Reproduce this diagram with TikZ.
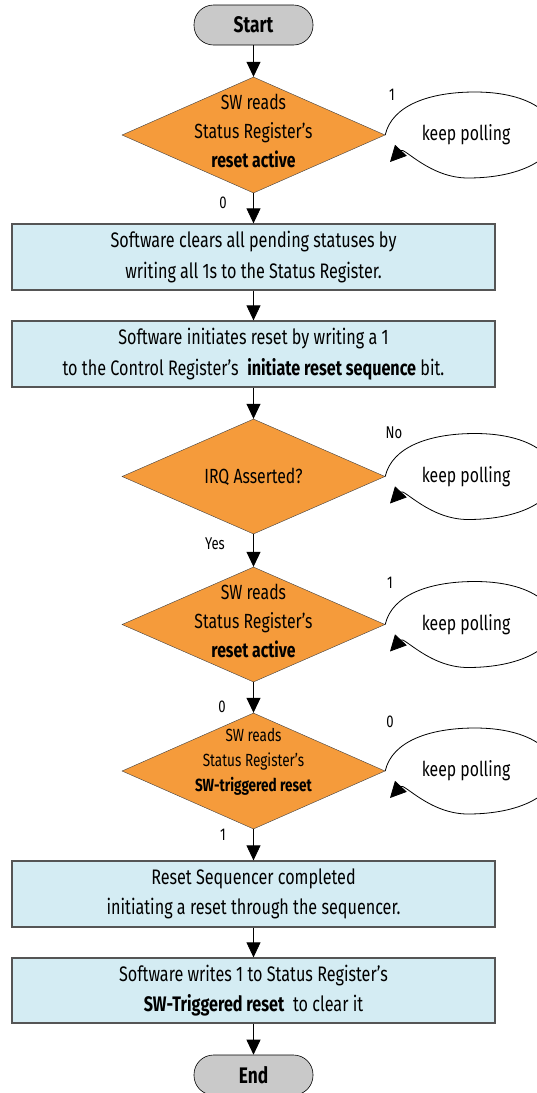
\documentclass[tikz,border=0pt]{standalone}
\usepackage{fontspec}
\setmainfont{Fira Sans}[FakeStretch=0.77]
\usetikzlibrary{shapes.geometric,arrows.meta}
\definecolor{dorange}{HTML}{F59B3B}
\definecolor{boxblue}{HTML}{D4ECF3}
\definecolor{termgray}{HTML}{C9C9C9}
\definecolor{boxedge}{HTML}{555555}
\newcommand{\pollloop}[3]{%
  \node[polltext] (kp#3) at (466,#2) {keep polling};
  \coordinate (ret#3) at (390,#2+27);
  \draw[looparr] (#1.east) .. controls (392,#2-30) and (430,#2-43) .. (475,#2-43)
     .. controls (525,#2-43) and (555,#2-24) .. (555,#2)
     .. controls (555,#2+24) and (520,#2+43) .. (468,#2+43)
     .. controls (430,#2+43) and (404,#2+12) .. (ret#3);
}
\begin{document}
\begin{tikzpicture}[x=1pt,y=-1pt,
  term/.style={rectangle, rounded corners=19.5pt, draw=black, line width=0.6pt, fill=termgray,
    minimum width=119pt, minimum height=40pt, inner sep=0pt, font=\fontsize{22.5}{26}\selectfont\bfseries},
  dec/.style={diamond, draw=black!75, line width=0.4pt, fill=dorange,
    minimum width=263pt, minimum height=116pt, inner sep=0pt},
  dectext/.style={align=center, inner sep=0pt, font=\fontsize{20.5}{29}\selectfont},
  smalldectext/.style={align=center, inner sep=0pt, font=\fontsize{17.6}{25}\selectfont},
  stepbox/.style={rectangle, draw=boxedge, line width=1.3pt, fill=boxblue,
    minimum width=483pt, minimum height=66pt, align=center, inner sep=0pt,
    font=\fontsize{21}{30.5}\selectfont},
  polltext/.style={inner sep=0pt, font=\fontsize{20.5}{24}\selectfont},
  lbl/.style={inner sep=0pt, font=\fontsize{17}{20}\selectfont},
  arr/.style={-{Triangle[length=15pt,width=14pt]}, line width=0.8pt},
  looparr/.style={-{Triangle[length=16pt,width=16pt]}, line width=0.8pt}]
\useasboundingbox (0,0) rectangle (537,1093);

\node[term] (start) at (253.5,25) {Start};
\node[dec] (d1) at (253.5,135) {};
\node[dectext] (d1t) at (253.5,131) {SW reads\\Status Register’s\\\textbf{reset active}};
\node[stepbox] (b1) at (253.5,257) {Software clears all pending statuses by\\writing all 1s to the Status Register.};
\node[stepbox] (b2) at (253.5,354) {Software initiates reset by writing a 1\\to the Control Register’s \ \textbf{initiate reset sequence} bit.};
\node[dec, minimum height=115pt] (d2) at (253.5,476.5) {};
\node[dectext] (d2t) at (253.5,476.5) {IRQ Asserted?};
\node[dec, minimum height=115pt] (d3) at (253.5,624.5) {};
\node[dectext] (d3t) at (253.5,621) {SW reads\\Status Register’s\\\textbf{reset active}};
\node[dec] (d4) at (253.5,771) {};
\node[smalldectext] (d4t) at (253.5,762) {SW reads\\Status Register’s\\\textbf{SW-triggered reset}};
\node[stepbox] (b3) at (253.5,894) {Reset Sequencer completed\\initiating a reset through the sequencer.};
\node[stepbox, minimum height=65pt] (b4) at (253.5,990.5) {Software writes 1 to Status Register’s\\\textbf{SW-Triggered reset} \ to clear it};
\node[term] (end) at (253.5,1075) {End};

\draw[arr] (start) -- (d1);
\draw[arr] (d1) -- (b1);
\draw[arr] (b1) -- (b2);
\draw[arr] (b2) -- (d2);
\draw[arr] (d2) -- (d3);
\draw[arr] (d3) -- (d4);
\draw[arr] (d4) -- (b3);
\draw[arr] (b3) -- (b4);
\draw[arr] (b4) -- (end);

\pollloop{d1}{135}{a}
\pollloop{d2}{476.5}{b}
\pollloop{d3}{624.5}{c}
\pollloop{d4}{771}{d}

\node[lbl] (l1) at (392,95) {1};
\node[lbl] (l2) at (223,203) {0};
\node[lbl] (l3) at (394,433) {No};
\node[lbl] (l4) at (215,544) {Yes};
\node[lbl] (l5) at (390,583) {1};
\node[lbl] (l6) at (222,707) {0};
\node[lbl] (l7) at (390,722) {0};
\node[lbl] (l8) at (223,835) {1};
\end{tikzpicture}
\end{document}
